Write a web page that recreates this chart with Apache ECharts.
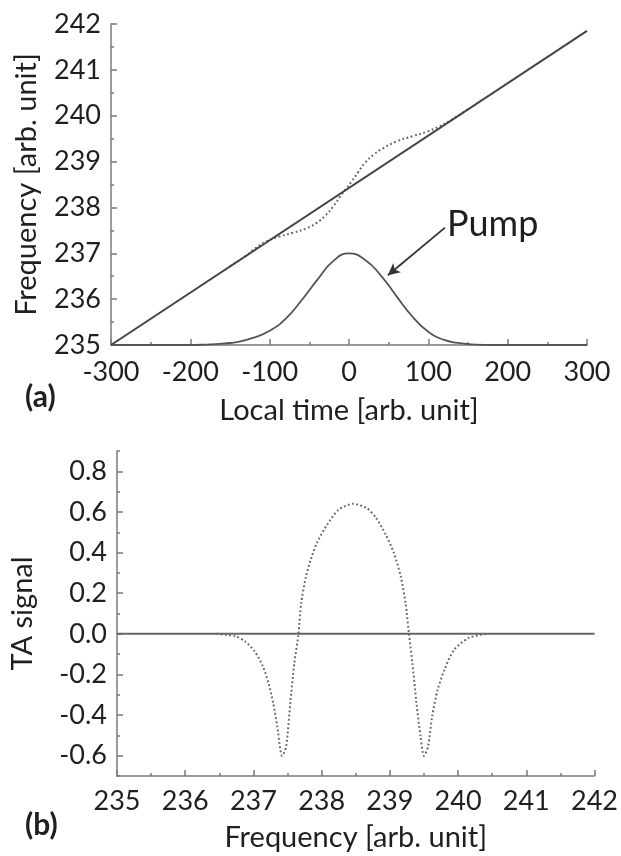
<!DOCTYPE html>
<html>
<head>
<meta charset="utf-8">
<script src="https://cdn.jsdelivr.net/npm/echarts@6/dist/echarts.min.js"></script>
<style>
html,body{margin:0;padding:0;background:#fff;}
#c{width:621px;height:856px;}
</style>
</head>
<body>
<div id="c"></div>
<script>
// ---- Panel (a): frequency vs local time ----
var lineTime = [-300, 300];
var lineFreq = [235, 241.85];

var chirpTime = [-150, -130, -118, -104, -87, -70, -53, -41, -30, -20, -11, -5, 3, 12, 20, 31, 43, 60, 81, 98, 113, 130, 150];
var chirpFreq = [236.72, 236.94, 237.11, 237.26, 237.37, 237.45, 237.55, 237.66, 237.82, 238.02, 238.24, 238.38, 238.56, 238.78, 238.97, 239.15, 239.29, 239.44, 239.56, 239.65, 239.76, 239.92, 240.14];

var pumpTime = [-300, -240, -200, -180, -160, -140, -120, -100, -80, -60, -40, -20, 0, 20, 40, 60, 80, 100, 120, 140, 160, 180, 200, 240, 300];
var pumpFreq = [235, 235, 235, 235.01, 235.03, 235.07, 235.16, 235.31, 235.57, 235.97, 236.42, 236.83, 237.0, 236.86, 236.52, 236.06, 235.62, 235.29, 235.11, 235.04, 235.01, 235.0, 235.0, 235.0, 235.0];

// ---- Panel (b): TA signal vs frequency ----
var baseFreq = [235, 242];
var baseSignal = [0, 0];

var taFreq = [236.46, 236.74, 236.88, 237.02, 237.14, 237.22, 237.29, 237.35, 237.42, 237.48, 237.54, 237.60, 237.66, 237.70, 237.77, 237.84, 237.93, 238.08, 238.25, 238.46, 238.66, 238.80, 238.94, 239.06, 239.16, 239.23, 239.28, 239.33, 239.39, 239.45, 239.50, 239.56, 239.62, 239.70, 239.80, 239.94, 240.15, 240.33, 240.44];
var taSignal = [0, -0.013, -0.038, -0.087, -0.161, -0.243, -0.341, -0.456, -0.601, -0.555, -0.341, -0.144, 0, 0.151, 0.282, 0.365, 0.447, 0.537, 0.611, 0.640, 0.619, 0.570, 0.488, 0.397, 0.282, 0.151, 0, -0.144, -0.341, -0.506, -0.601, -0.555, -0.407, -0.276, -0.177, -0.079, -0.021, -0.005, 0];

var taMajorTicks = [-0.6, -0.4, -0.2, 0, 0.2, 0.4, 0.6, 0.8];
var taMinorTicks = [-0.7, -0.5, -0.3, -0.1, 0.1, 0.3, 0.5, 0.7, 0.9];

function pairs(xs, ys) { return xs.map(function (x, i) { return [x, ys[i]]; }); }

var FONT = 'Lato';
var TXT = '#1f1f1f';
var AX = '#7a7a7a';

function axisCommon() {
  return {
    axisLine: { show: true, onZero: false, lineStyle: { color: AX, width: 1.5 } },
    axisTick: { show: true, inside: true, length: 6, lineStyle: { color: AX, width: 1.5 } },
    minorTick: { show: true, splitNumber: 2, length: 3, lineStyle: { color: AX, width: 1.5 } },
    splitLine: { show: false },
    minorSplitLine: { show: false },
    axisLabel: { color: TXT, fontFamily: FONT, fontSize: 27 },
    nameTextStyle: { color: TXT, fontFamily: FONT, fontSize: 29 }
  };
}
function merge(a, b) { for (var k in b) a[k] = b[k]; return a; }

var chart = echarts.init(document.getElementById('c'), null, { renderer: 'canvas' });
chart.setOption({
  backgroundColor: '#fff',
  animation: false,
  grid: [
    { left: 111, top: 24, width: 476, height: 321 },
    { left: 111, top: 451, width: 486, height: 325 }
  ],
  xAxis: [
    merge(axisCommon(), {
      type: 'value', gridIndex: 0, min: -300, max: 300, interval: 100,
      name: 'Local time [arb. unit]', nameLocation: 'middle', nameGap: 51,
      axisLabel: { color: TXT, fontFamily: FONT, fontSize: 27, margin: 14 }
    }),
    merge(axisCommon(), {
      type: 'value', gridIndex: 1, min: 235, max: 242, interval: 1,
      name: 'Frequency [arb. unit]', nameLocation: 'middle', nameGap: 47,
      axisLabel: { color: TXT, fontFamily: FONT, fontSize: 27, margin: 12 }
    })
  ],
  yAxis: [
    merge(axisCommon(), {
      type: 'value', gridIndex: 0, min: 235, max: 242, interval: 1,
      name: 'Frequency [arb. unit]', nameLocation: 'middle', nameGap: 70,
      axisLabel: { color: TXT, fontFamily: FONT, fontSize: 27, margin: 10 }
    }),
    merge(axisCommon(), {
      type: 'value', gridIndex: 1, min: -0.7, max: 0.9, interval: 0.1,
      name: 'TA signal', nameLocation: 'middle', nameGap: 80,
      minorTick: { show: false },
      axisTick: { show: true, inside: true, length: 6, customValues: taMajorTicks, lineStyle: { color: AX, width: 1.5 } },
      axisLabel: { color: TXT, fontFamily: FONT, fontSize: 27, margin: 10, customValues: taMajorTicks,
        formatter: function (v) { return v.toFixed(1); } }
    }),
    {
      type: 'value', gridIndex: 1, min: -0.7, max: 0.9, interval: 0.1, position: 'left',
      axisLine: { show: false }, splitLine: { show: false }, axisLabel: { show: false },
      axisTick: { show: true, inside: true, length: 3, customValues: taMinorTicks, lineStyle: { color: AX, width: 1.5 } }
    }
  ],
  series: [
    {
      type: 'line', xAxisIndex: 0, yAxisIndex: 0, data: pairs(chirpTime, chirpFreq),
      smooth: 0.5, symbol: 'none', z: 2,
      lineStyle: { color: '#666', width: 2, type: [1.8, 2.6], cap: 'butt' }
    },
    {
      type: 'line', xAxisIndex: 0, yAxisIndex: 0, data: pairs(lineTime, lineFreq),
      symbol: 'none', z: 3, lineStyle: { color: '#444', width: 2 }
    },
    {
      type: 'line', xAxisIndex: 0, yAxisIndex: 0, data: pairs(pumpTime, pumpFreq),
      smooth: 0.5, symbol: 'none', z: 3, lineStyle: { color: '#555', width: 1.8 },
      markLine: {
        silent: true, symbol: ['none', 'arrow'], symbolSize: [9, 12],
        label: { show: false },
        lineStyle: { color: '#333', width: 1.8, type: 'solid' },
        data: [[{ coord: [121, 237.56] }, { coord: [49, 236.52] }]]
      }
    },
    {
      type: 'line', xAxisIndex: 1, yAxisIndex: 1, data: pairs(baseFreq, baseSignal),
      symbol: 'none', z: 2, lineStyle: { color: '#666', width: 2 }
    },
    {
      type: 'line', xAxisIndex: 1, yAxisIndex: 1, data: pairs(taFreq, taSignal),
      smooth: 0.25, symbol: 'none', z: 3,
      lineStyle: { color: '#666', width: 2, type: [1.8, 2.4], cap: 'butt' }
    }
  ],
  graphic: [
    { type: 'text', left: 447, top: 206, style: { text: 'Pump', font: '36px Lato', fill: TXT } },
    { type: 'text', left: 25, top: 382, style: { text: '(a)', font: 'bold 30px Lato', fill: TXT } },
    { type: 'text', left: 25, top: 810, style: { text: '(b)', font: 'bold 30px Lato', fill: TXT } }
  ]
});
</script>
</body>
</html>
